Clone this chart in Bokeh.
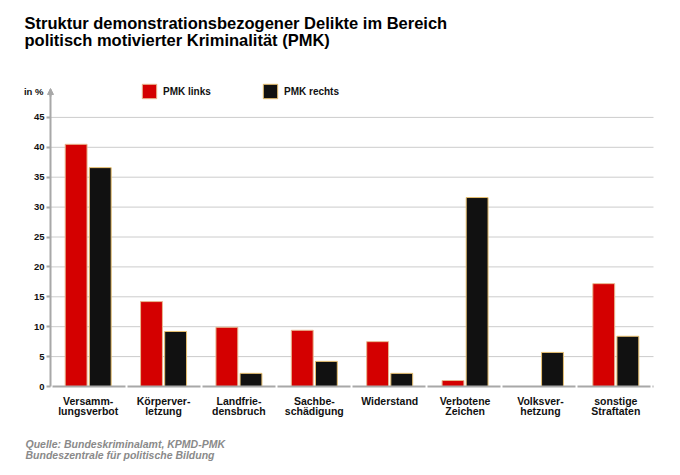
from bokeh.plotting import figure
from bokeh.models import (Range1d, FixedTicker, Label, Legend, LegendItem,
                          Arrow, NormalHead, LinearAxis)
from bokeh.embed import file_html
from bokeh.resources import INLINE

categories = ["Versamm-\nlungsverbot", "Körperver-\nletzung", "Landfrie-\ndensbruch",
              "Sachbe-\nschädigung", "Widerstand", "Verbotene\nZeichen",
              "Volksver-\nhetzung", "sonstige\nStraftaten"]
pmk_links = [40.5, 14.2, 9.9, 9.4, 7.5, 1.0, 0.0, 17.2]
pmk_rechts = [36.6, 9.2, 2.2, 4.2, 2.2, 31.6, 5.7, 8.4]
y_ticks = [0, 5, 10, 15, 20, 25, 30, 35, 40, 45]
series_names = ["PMK links", "PMK rechts"]
title_lines = ["Struktur demonstrationsbezogener Delikte im Bereich",
               "politisch motivierter Kriminalität (PMK)"]
source_lines = ["Quelle: Bundeskriminalamt, KPMD-PMK",
                "Bundeszentrale für politische Bildung"]
unit_label = "in %"

FONT = "Liberation Sans"
W, H = 680, 475
# plot area in page pixels
FL, FR, FB = 50, 653, 386
N = len(categories)
PXY = 5.98          # pixels per percent
PXX = (FR - FL) / N  # pixels per category


def dx(px):
    return (px - FL) / PXX


def dy(py):
    return (FB - py) / PXY


pos = [i + 0.5 for i in range(N)]
first_lines = [c.split("\n")[0] for c in categories]
second_lines = [c.split("\n")[1] if "\n" in c else "" for c in categories]

p = figure(width=W, height=H, output_backend="svg", toolbar_location=None,
           x_range=Range1d(dx(0), dx(W)), y_range=Range1d(dy(H), dy(0)),
           min_border=0, min_border_left=0, min_border_right=0,
           min_border_top=0, min_border_bottom=0,
           background_fill_color="white", border_fill_color="white")
p.outline_line_color = None
p.xgrid.visible = False
p.ygrid.visible = False

# grid lines across the category area
p.segment(x0=[0] * (len(y_ticks) - 1), x1=[N] * (len(y_ticks) - 1),
          y0=y_ticks[1:], y1=y_ticks[1:], line_color="#cccccc", line_width=1)

r1 = p.vbar(x=[x - 0.16 for x in pos], top=pmk_links, width=0.29,
            fill_color="#d40000", line_color="#e8b890", line_width=1)
r2 = p.vbar(x=[x + 0.16 for x in pos], top=pmk_rechts, width=0.29,
            fill_color="#111111", line_color="#e8c070", line_width=1)

# y axis
yax = p.yaxis[0]
yax.fixed_location = 0
yax.bounds = (0, dy(89))
yax.ticker = FixedTicker(ticks=y_ticks)
yax.axis_line_color = "#a8a8a8"
yax.axis_line_width = 2
yax.major_tick_line_color = "#a8a8a8"
yax.major_tick_line_width = 2
yax.major_tick_out = 4
yax.major_tick_in = 0
yax.minor_tick_line_color = None
yax.major_label_text_font = FONT
yax.major_label_text_font_style = "bold"
yax.major_label_text_font_size = "9.5px"
yax.major_label_text_color = "#111111"
yax.major_label_standoff = 2

# x axis (first label line)
xax = p.xaxis[0]
xax.fixed_location = 0
xax.bounds = (0, N)
xax.ticker = FixedTicker(ticks=pos)
xax.major_label_overrides = {x: t for x, t in zip(pos, first_lines)}
xax.axis_line_color = "#a8a8a8"
xax.axis_line_width = 2
xax.axis_line_dash = "73 2"
xax.axis_line_dash_offset = 73
xax.major_tick_line_color = None
xax.minor_tick_line_color = None
xax.major_label_text_font = FONT
xax.major_label_text_font_style = "bold"
xax.major_label_text_font_size = "10.5px"
xax.major_label_text_color = "#111111"
xax.major_label_standoff = 2

# second label line
xax2 = LinearAxis(ticker=FixedTicker(ticks=pos), fixed_location=0,
                  major_label_overrides={x: t for x, t in zip(pos, second_lines)},
                  axis_line_color=None, major_tick_line_color=None,
                  minor_tick_line_color=None, major_label_text_font=FONT,
                  major_label_text_font_style="bold", major_label_text_font_size="10.5px",
                  major_label_text_color="#111111", major_label_standoff=12)
p.add_layout(xax2, "below")

# arrow on y axis
p.add_layout(Arrow(end=NormalHead(size=6, fill_color="#a8a8a8", line_color="#a8a8a8"),
                   x_start=0, y_start=dy(96), x_end=0, y_end=dy(88),
                   line_color="#a8a8a8", line_width=2))

# unit label
p.add_layout(Label(x=dx(43), y=dy(91), text=unit_label, text_align="right",
                   text_baseline="middle", text_font=FONT, text_font_style="bold",
                   text_font_size="9.5px", text_color="#111111"))

# legends
for r, name, lx in ((r1, series_names[0], 140), (r2, series_names[1], 261)):
    lg = Legend(items=[LegendItem(label=name, renderers=[r])],
                location=(lx, H - 100), orientation="horizontal",
                glyph_width=18, glyph_height=18, label_height=18, label_standoff=5,
                padding=0, margin=0, border_line_color=None, background_fill_alpha=0,
                label_text_font=FONT, label_text_font_style="bold",
                label_text_font_size="10px", label_text_color="#111111")
    p.add_layout(lg, "center")

# title
for t, mid in zip(title_lines, (22, 39)):
    p.add_layout(Label(x=dx(24), y=dy(mid), text=t, text_baseline="middle",
                       text_font=FONT, text_font_style="bold", text_font_size="16.5px",
                       text_color="#000000"))

# source
for t, mid in zip(source_lines, (443.3, 454.5)):
    p.add_layout(Label(x=dx(25), y=dy(mid), text=t, text_baseline="middle",
                       text_font=FONT, text_font_style="bold italic", text_font_size="10.5px",
                       text_color="#8a8a8a"))

open("out.html", "w").write(file_html(p, INLINE))
